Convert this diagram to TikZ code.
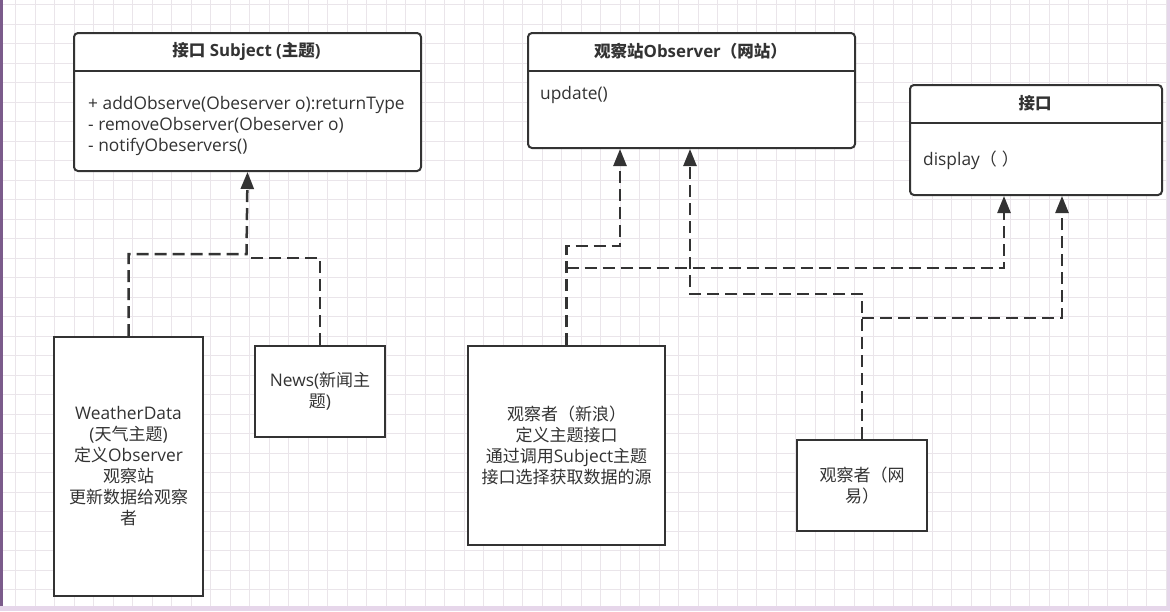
\documentclass[tikz,border=0pt]{standalone}
\usepackage{fontspec}
\setmainfont{Open Sans}[Scale=1.02]
\newfontfamily\cjk{Noto Sans CJK SC}
\newcommand{\zh}[1]{{\cjk #1}}
\usetikzlibrary{arrows.meta}
\definecolor{ink}{HTML}{333333}
\definecolor{gridc}{HTML}{EAE5EA}
\definecolor{edgep}{HTML}{7B5B8B}
\definecolor{edgel}{HTML}{E6D6EA}
\tikzset{
  classbox/.style={draw=ink, line width=2pt, rounded corners=4pt, fill=white, inner sep=0pt},
  plainbox/.style={draw=ink, line width=2pt, fill=white, align=center, inner sep=0pt, text=ink,
    font=\fontsize{17}{21}\selectfont},
  title/.style={text=ink, font=\fontsize{16.5}{19}\selectfont\bfseries, inner sep=0pt},
  body/.style={text=ink, font=\fontsize{17}{21}\selectfont, align=left, inner sep=0pt},
  dep/.style={draw=ink, line width=2.5pt, dash pattern=on 12pt off 6pt},
  deparrow/.style={dep, -{Triangle[length=17pt,width=13pt]}},
}
\begin{document}
\begin{tikzpicture}[x=1pt,y=-1pt]
\useasboundingbox (0,0) rectangle (1170,611);
\fill[white] (0,0) rectangle (1170,611);
% grid
\foreach \i in {0,...,59} {
  \draw[gridc, line width=1pt] ({15.5+19.5*\i},0) -- ({15.5+19.5*\i},611);
}
\foreach \j in {0,...,31} {
  \draw[gridc, line width=1pt] (0,{4.5+19.5*\j}) -- (1170,{4.5+19.5*\j});
}
% borders
\fill[edgep] (0,0) rectangle (3,611);
\fill[edgel] (0,606) rectangle (1170,611);
\fill[edgel] (1167,0) rectangle (1170,611);

% class boxes
\node[classbox, minimum width=347pt, minimum height=138pt, anchor=north west] (subj) at (73,32) {};
\draw[ink, line width=2pt] (73,71) -- (420,71);
\node[title] (subjt) at (246.5,51) {\zh{接口} Subject (\zh{主题})};
\node[body, anchor=west] (subjb) at (88,126) {+ addObserve(Obeserver o):returnType\\- removeObserver(Obeserver o)\\- notifyObeservers()};

\node[classbox, minimum width=327pt, minimum height=115pt, anchor=north west] (obs) at (527,32) {};
\draw[ink, line width=2pt] (527,71) -- (854,71);
\node[title] (obst) at (690.5,51) {\zh{观察站}Observer\zh{（网站）}};
\node[body, anchor=west] (obsb) at (540,95) {update()};

\node[classbox, minimum width=252pt, minimum height=110pt, anchor=north west] (disp) at (909,84) {};
\draw[ink, line width=2pt] (909,123) -- (1161,123);
\node[title] (dispt) at (1035,103) {\zh{接口}};
\node[body, anchor=west] (dispb) at (923,160) {display\zh{（\hspace{5pt}）}};

% lower boxes
\node[plainbox, minimum width=149pt, minimum height=259pt, anchor=north west] (wd) at (53,336)
  {WeatherData\\(\zh{天气主题})\\\zh{定义}Observer\\\zh{观察站}\\\zh{更新数据给观察}\\\zh{者}};
\node[plainbox, minimum width=130pt, minimum height=91pt, anchor=north west] (news) at (254,345)
  {News(\zh{新闻主}\\\zh{题})};
\node[plainbox, minimum width=197pt, minimum height=199pt, anchor=north west] (sina) at (467,345)
  {\zh{观察者（新浪）}\\\zh{定义主题接口}\\\zh{通过调用}Subject\zh{主题}\\\zh{接口选择获取数据的源}};
\node[plainbox, minimum width=130pt, minimum height=91pt, anchor=north west] (wy) at (796,439)
  {\zh{观察者（网}\\\zh{易）}};

% junction coordinates
\coordinate (j1) at (246.5,254);
\coordinate (j2) at (246.5,258);
\coordinate (j3) at (620,246);
\coordinate (j4) at (1004,268);
\coordinate (j5) at (690,294);
\coordinate (j6) at (1062,318);

% connectors
\draw[deparrow] (wd.north) |- (j1) -- (subj.south);
\draw[dep] (news.north) |- (j2);
\draw[deparrow] (sina.north) |- (j3) -- (j3 |- obs.south);
\draw[deparrow] (sina.north |- j4) -- (j4) -- (j4 |- disp.south);
\draw[deparrow] (wy.north) |- (j5) -- (j5 |- obs.south);
\draw[deparrow] (wy.north |- j6) -- (j6) -- (j6 |- disp.south);
\end{tikzpicture}
\end{document}
